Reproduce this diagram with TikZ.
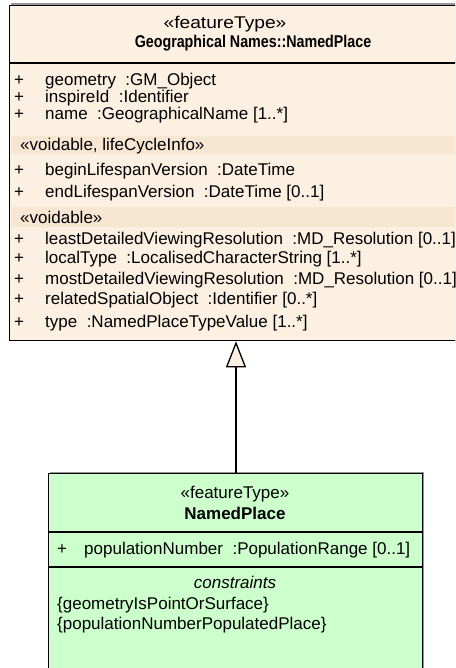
\documentclass[tikz,border=0pt]{standalone}
\usepackage{fontspec}
\setmainfont{Liberation Sans}
\usetikzlibrary{arrows.meta}
\definecolor{beigefill}{RGB}{251,240,225}
\definecolor{beigeband}{RGB}{247,231,210}
\definecolor{greenfill}{RGB}{204,255,204}
\definecolor{shadowgray}{RGB}{150,150,150}
\tikzset{
  x=1pt, y=-1pt,
  umlbox/.style={draw=black, line width=1.3pt, anchor=north west, inner sep=0pt},
  txt/.style={inner sep=0pt, font=\fontsize{17}{20}\selectfont},
  attr/.style={txt, anchor=base west},
  hdr/.style={txt, anchor=base},
  plus/.style={txt, anchor=base west},
}
\newcommand{\sep}{\ \ }
\begin{document}
\begin{tikzpicture}
\useasboundingbox (0,0) rectangle (455,668);
\clip (0,0) rectangle (455,668);
% shadows
\fill[shadowgray] (11,3.5) rectangle (480,338.5);
\fill[shadowgray] (50,471.5) rectangle (424,700);
% superclass box
\node[umlbox, fill=beigefill, minimum width=470pt, minimum height=335pt] (super) at (9,5) {};
\fill[beigeband] (10.5,136) rectangle (475,154);
\fill[beigeband] (10.5,207) rectangle (475,227);
\draw[line width=1.3pt] (super.west |- 0,63) coordinate (s1) -- (s1 -| super.east);
\node[hdr] (st1) at (225,29) {\scalebox{1.13}[1]{«featureType»}};
\node[hdr] (nm1) at (253,48) {\scalebox{0.84}[1]{\bfseries Geographical Names::NamedPlace}};
% attributes
\foreach \y/\n/\t in {
  86/a1/{geometry\sep:GM\_Object},
  103/a2/{inspireId\sep:Identifier},
  120/a3/{name\sep:GeographicalName [1..*]},
  176/a4/{beginLifespanVersion\sep:DateTime},
  197/a5/{endLifespanVersion\sep:DateTime [0..1]},
  244/a6/{leastDetailedViewingResolution\sep:MD\_Resolution [0..1]},
  263/a7/{localType\sep:LocalisedCharacterString [1..*]},
  284/a8/{mostDetailedViewingResolution\sep:MD\_Resolution [0..1]},
  304/a9/{relatedSpatialObject\sep:Identifier [0..*]},
  327/a10/{type\sep:NamedPlaceTypeValue [1..*]}} {
  \node[plus] (p\n) at (14,\y) {+};
  \node[attr] (\n) at (45,\y) {\t};
}
\node[attr] (sv1) at (20,151) {«voidable, lifeCycleInfo»};
\node[attr] (sv2) at (20,223) {«voidable»};
% subclass box
\node[umlbox, fill=greenfill, minimum width=374pt, minimum height=220pt] (sub) at (48,473) {};
\draw[line width=1.3pt] (sub.west |- 0,532) coordinate (g1) -- (g1 -| sub.east);
\draw[line width=1.3pt] (sub.west |- 0,567) coordinate (g2) -- (g2 -| sub.east);
\node[hdr] (st2) at (235,498) {«featureType»};
\node[hdr] (nm2) at (235,519) {\bfseries NamedPlace};
\node[plus] (pb1) at (57,554) {+};
\node[attr] (b1) at (84,554) {populationNumber\sep:PopulationRange [0..1]};
\node[hdr] (cst) at (235,588) {\itshape constraints};
\node[attr] (c1) at (57,609) {\{geometryIsPointOrSurface\}};
\node[attr] (c2) at (57,629) {\{populationNumberPopulatedPlace\}};
% generalization
\draw[line width=1.3pt, -{Triangle[length=26pt, width=20pt, fill=beigefill, line width=1.3pt]}]
  (sub.north -| 236,0) -- (236,0 |- super.south);
\end{tikzpicture}
\end{document}
